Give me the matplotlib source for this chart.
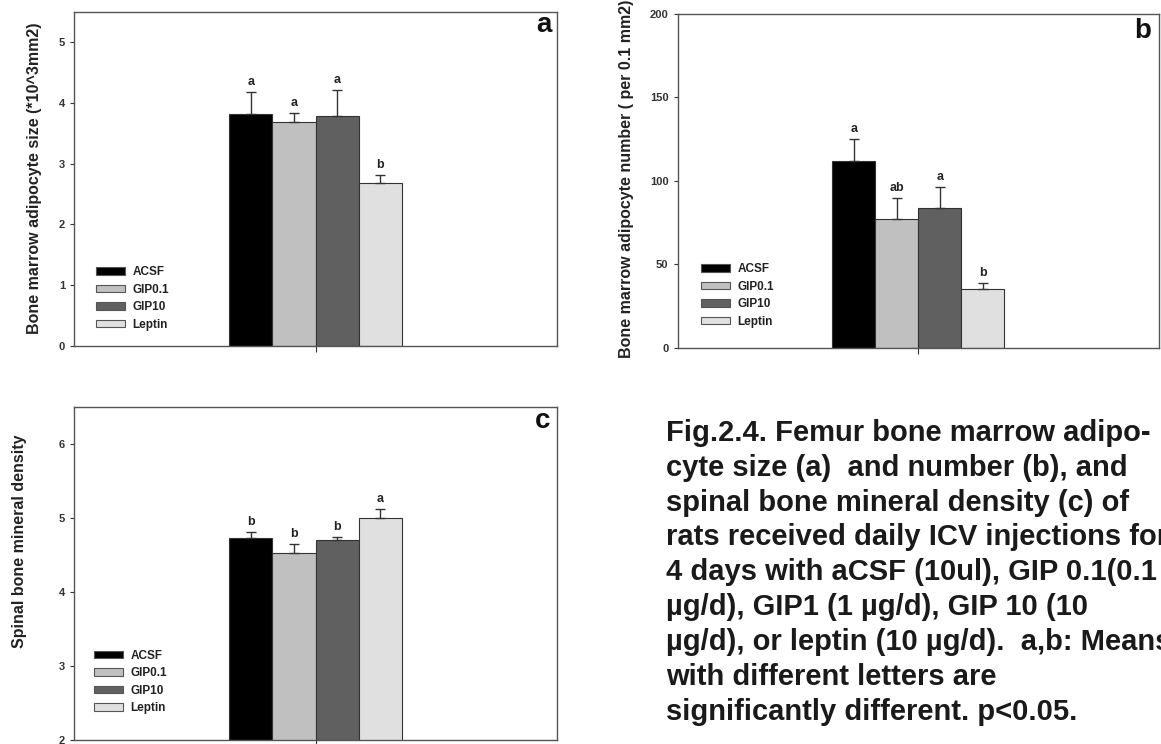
import numpy as np
import matplotlib.pyplot as plt

groups = ['ACSF', 'GIP0.1', 'GIP10', 'Leptin']
colors = ['#000000', '#c0c0c0', '#606060', '#e0e0e0']

size_mean = [3.82, 3.68, 3.79, 2.68]
size_err = [0.36, 0.15, 0.42, 0.13]
size_sig = ['a', 'a', 'a', 'b']

number_mean = [112, 77, 84, 35]
number_err = [13, 12.5, 12.3, 3.5]
number_sig = ['a', 'ab', 'a', 'b']

bmd_mean = [4.73, 4.53, 4.70, 5.00]
bmd_err = [0.08, 0.11, 0.04, 0.12]
bmd_sig = ['b', 'b', 'b', 'a']

caption = ("Fig.2.4. Femur bone marrow adipo-\n"
           "cyte size (a)  and number (b), and\n"
           "spinal bone mineral density (c) of\n"
           "rats received daily ICV injections for\n"
           "4 days with aCSF (10ul), GIP 0.1(0.1\n"
           "\u00b5g/d), GIP1 (1 \u00b5g/d), GIP 10 (10\n"
           "\u00b5g/d), or leptin (10 \u00b5g/d).  a,b: Means\n"
           "with different letters are\n"
           "significantly different. p<0.05.")

plt.rcParams['font.family'] = ['Liberation Sans', 'DejaVu Sans']
plt.rcParams['font.weight'] = 'bold'

W, H = 1161, 744
fig = plt.figure(figsize=(W / 100, H / 100), dpi=100)


def px_rect(x0, y0, x1, y1):
    # pixel box (top-left origin) -> figure fraction rect
    return [x0 / W, 1 - y1 / H, (x1 - x0) / W, (y1 - y0) / H]


def panel(box, mean, err, sig, ylim, yticks, ylabel, label_xy, tag, tag_xy, leg_anchor):
    ax = fig.add_axes(px_rect(*box))
    w = 0.5
    x = (np.arange(len(mean)) - 1.5) * w
    bars = ax.bar(x, mean, width=w, color=colors, edgecolor='#333333',
                  linewidth=0.8)
    ax.errorbar(x, mean, yerr=[np.zeros(len(err)), err], fmt='none',
                ecolor='#333333', elinewidth=1.0, capsize=3.6, capthick=1.0)
    for xi, m, e, s in zip(x, mean, err, sig):
        ax.annotate(s, (xi, m + e), xytext=(0, 3), textcoords='offset points',
                    ha='center', va='bottom', fontsize=9, fontweight='bold',
                    color='#222222')
    ax.set_xlim(-2.8, 2.8)
    ax.set_ylim(*ylim)
    ax.set_yticks(yticks)
    ax.set_xticks([0])
    ax.set_xticklabels([''])
    ax.tick_params(axis='y', direction='out', length=3, width=0.8,
                   labelsize=8, colors='#333333', pad=3.5)
    ax.tick_params(axis='x', direction='out', length=4, width=0.8,
                   colors='#333333')
    for lbl in ax.get_yticklabels():
        lbl.set_fontweight('bold')
    for sp in ax.spines.values():
        sp.set_color('#555555')
        sp.set_linewidth(1.0)
    fig.text(label_xy[0] / W, 1 - label_xy[1] / H, ylabel, rotation=90,
             ha='center', va='center', fontsize=11.5, fontweight='bold',
             color='#222222')
    fig.text(tag_xy[0] / W, 1 - tag_xy[1] / H, tag, ha='center', va='center',
             fontsize=20, fontweight='bold', color='#111111')
    leg = ax.legend(bars, groups, loc='lower left', bbox_to_anchor=leg_anchor,
                    frameon=False, borderpad=0, borderaxespad=0,
                    handlelength=2.45, handleheight=0.6, labelspacing=0.47,
                    handletextpad=0.65, prop={'weight': 'bold', 'size': 8.5})
    for t in leg.get_texts():
        t.set_color('#222222')
    for p in leg.get_patches():
        p.set_edgecolor('#555555')
        p.set_linewidth(0.8)
    return ax


panel((74, 12, 557, 345.7), size_mean, size_err, size_sig,
      (0, 5.5), [0, 1, 2, 3, 4, 5],
      'Bone marrow adipocyte size (*10^3mm2)', (35, 178),
      'a', (544, 25), (0.045, 0.045))
panel((677.5, 14, 1159, 347.7), number_mean, number_err, number_sig,
      (0, 200), [0, 50, 100, 150, 200],
      'Bone marrow adipocyte number ( per 0.1 mm2)', (626, 179),
      'b', (1143, 31), (0.049, 0.06))
panel((74, 406.7, 557, 740), bmd_mean, bmd_err, bmd_sig,
      (2, 6.5), [2, 3, 4, 5, 6],
      'Spinal bone mineral density', (20, 541),
      'c', (543, 421), (0.041, 0.077))

# caption runs past the right edge, as in the original figure
fig.text(666 / W, 1 - 419 / H, caption, ha='left', va='top', fontsize=21,
         fontweight='bold', color='#1a1a1a', linespacing=1.31)

fig.savefig('out.png', dpi=100)
